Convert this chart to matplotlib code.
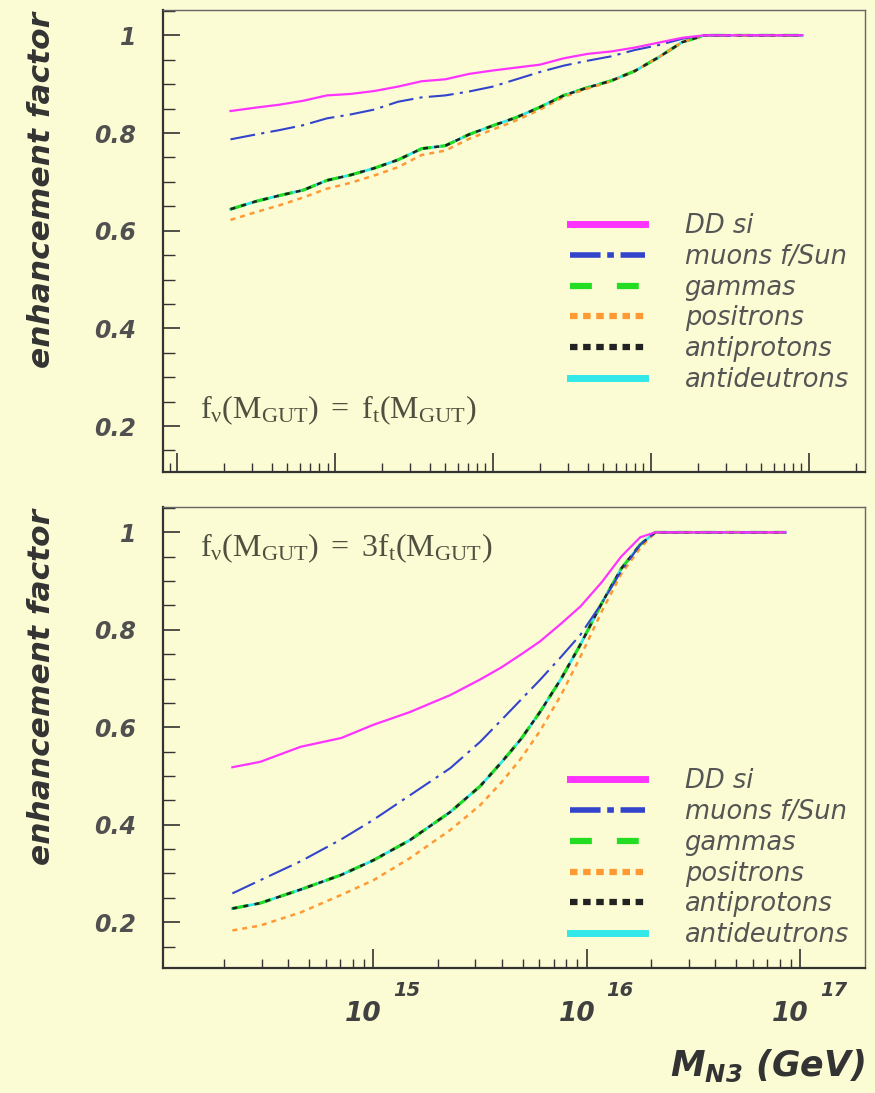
import numpy as np
import matplotlib
matplotlib.use("Agg")
import matplotlib.pyplot as plt
from matplotlib.lines import Line2D
from matplotlib.ticker import LogLocator, MultipleLocator, NullFormatter

plt.rcParams["font.family"] = ["DejaVu Sans"]
plt.rcParams["mathtext.fontset"] = "custom"
plt.rcParams["mathtext.rm"] = "Liberation Serif"
plt.rcParams["mathtext.it"] = "Liberation Serif:italic"
plt.rcParams["mathtext.bf"] = "DejaVu Sans:bold:italic"

# ---- data (log10 of M_N3 in GeV, enhancement factor) ----
# upper panel: f_nu(M_GUT) = f_t(M_GUT)
logm_top = [14.34, 14.5, 14.65, 14.8, 14.95, 15.1, 15.25, 15.4, 15.55, 15.7, 15.85,
            16.0, 16.15, 16.3, 16.45, 16.6, 16.75, 16.9, 17.05, 17.2, 17.34, 17.5,
            17.7, 17.96]
dd_top = [0.845, 0.852, 0.858, 0.866, 0.877, 0.880, 0.886, 0.895, 0.906, 0.910, 0.921,
          0.928, 0.934, 0.940, 0.953, 0.962, 0.967, 0.975, 0.985, 0.995, 1.0, 1.0, 1.0, 1.0]
mu_top = [0.787, 0.797, 0.806, 0.816, 0.830, 0.838, 0.848, 0.864, 0.873, 0.877, 0.885,
          0.895, 0.910, 0.925, 0.938, 0.948, 0.957, 0.970, 0.980, 0.993, 1.0, 1.0, 1.0, 1.0]
gam_top = [0.644, 0.660, 0.672, 0.683, 0.703, 0.714, 0.728, 0.745, 0.768, 0.774, 0.797,
           0.815, 0.832, 0.853, 0.877, 0.893, 0.907, 0.927, 0.955, 0.986, 1.0, 1.0, 1.0, 1.0]
pos_top = [0.622, 0.638, 0.652, 0.668, 0.686, 0.698, 0.713, 0.730, 0.755, 0.764, 0.788,
           0.807, 0.826, 0.848, 0.874, 0.891, 0.906, 0.927, 0.955, 0.986, 1.0, 1.0, 1.0, 1.0]
pbar_top = gam_top   # antiprotons lie on top of gammas
dbar_top = gam_top   # antideutrons lie on top of gammas

# lower panel: f_nu(M_GUT) = 3 f_t(M_GUT)
logm_bot = [14.34, 14.47, 14.66, 14.85, 15.0, 15.17, 15.36, 15.5, 15.6, 15.69, 15.78,
            15.88, 15.97, 16.07, 16.16, 16.25, 16.32, 16.5, 16.7, 16.93]
dd_bot = [0.518, 0.529, 0.560, 0.578, 0.605, 0.631, 0.666, 0.698, 0.723, 0.749, 0.776,
          0.813, 0.848, 0.898, 0.950, 0.990, 1.0, 1.0, 1.0, 1.0]
mu_bot = [0.259, 0.286, 0.325, 0.370, 0.410, 0.460, 0.516, 0.570, 0.615, 0.656, 0.697,
          0.745, 0.790, 0.855, 0.920, 0.975, 1.0, 1.0, 1.0, 1.0]
gam_bot = [0.228, 0.239, 0.267, 0.297, 0.327, 0.368, 0.426, 0.479, 0.528, 0.575, 0.631,
           0.700, 0.770, 0.855, 0.925, 0.975, 1.0, 1.0, 1.0, 1.0]
pos_bot = [0.183, 0.193, 0.220, 0.256, 0.286, 0.331, 0.389, 0.440, 0.487, 0.535, 0.592,
           0.667, 0.745, 0.838, 0.914, 0.968, 1.0, 1.0, 1.0, 1.0]
pbar_bot = gam_bot
dbar_bot = gam_bot

labels = ["DD si", "muons f/Sun", "gammas", "positrons", "antiprotons", "antideutrons"]
bottom_decades = [15, 16, 17]

BG = "#fcfcd4"
C_DD = "#ff33ff"
C_MU = "#3344cc"
C_GAM = "#22dd22"
C_POS = "#ff9933"
C_PBAR = "#222222"
C_DBAR = "#33e8e8"

fig = plt.figure(figsize=(8.75, 10.93), dpi=100, facecolor=BG)
ax_top = fig.add_axes([0.186, 0.5682, 0.802, 0.4227])
ax_bot = fig.add_axes([0.186, 0.1144, 0.802, 0.4217])


def draw(ax, logm, dd, mu, gam, pos, pbar, dbar):
    m = 10.0 ** np.array(logm)
    ax.plot(m, dbar, color=C_DBAR, lw=2.0)
    ax.plot(m, gam, color=C_GAM, lw=2.2, dashes=(5, 3))
    ax.plot(m, pos, color=C_POS, lw=1.8, dashes=(2, 2))
    ax.plot(m, pbar, color=C_PBAR, lw=1.8, dashes=(2, 2.5))
    ax.plot(m, mu, color=C_MU, lw=1.5, dashes=(12, 3, 1.5, 3))
    ax.plot(m, dd, color=C_DD, lw=1.6)


def style(ax, xlim):
    ax.set_facecolor(BG)
    ax.set_xscale("log")
    ax.set_xlim(*xlim)
    ax.set_ylim(0.106, 1.052)
    ax.yaxis.set_major_locator(MultipleLocator(0.2))
    ax.yaxis.set_minor_locator(MultipleLocator(0.05))
    ax.xaxis.set_major_locator(LogLocator(base=10, numticks=20))
    ax.xaxis.set_minor_locator(LogLocator(base=10, subs=np.arange(2, 10), numticks=50))
    ax.xaxis.set_minor_formatter(NullFormatter())
    ax.tick_params(axis="y", which="major", direction="in", length=12, width=1.2,
                   color="#333333", pad=19, labelsize=17, labelcolor="#505050")
    ax.tick_params(axis="y", which="minor", direction="in", length=8.5, width=1.0,
                   color="#333333")
    ax.tick_params(axis="x", which="major", direction="in", length=14, width=1.2,
                   color="#333333")
    ax.tick_params(axis="x", which="minor", direction="in", length=6.5, width=1.0,
                   color="#333333")
    ax.set_yticks([0.2, 0.4, 0.6, 0.8, 1.0], ["0.2", "0.4", "0.6", "0.8", "1"],
                  fontweight="bold", fontstyle="italic")
    for s in ["left", "bottom"]:
        ax.spines[s].set_color("#333333")
        ax.spines[s].set_linewidth(1.6)
    for s in ["top", "right"]:
        ax.spines[s].set_color("#666666")
        ax.spines[s].set_linewidth(1.0)
    ax.set_ylabel("enhancement factor", fontsize=22.5, fontweight="bold",
                  fontstyle="italic", color="#333333")
    ax.yaxis.set_label_coords(-0.152, 0.61)


def legend(ax, anchor):
    handles = [
        Line2D([], [], color=C_DD, lw=5),
        Line2D([], [], color=C_MU, lw=4, dashes=(5.5, 1.2, 1.2, 1.2)),
        Line2D([], [], color=C_GAM, lw=4.5, dashes=(3.5, 4)),
        Line2D([], [], color=C_POS, lw=4.5, dashes=(1.2, 0.9)),
        Line2D([], [], color=C_PBAR, lw=4.5, dashes=(1.2, 0.9)),
        Line2D([], [], color=C_DBAR, lw=5),
    ]
    leg = ax.legend(handles, labels, loc="upper left", bbox_to_anchor=anchor,
                    frameon=False, borderpad=0, borderaxespad=0, handlelength=2.92,
                    handletextpad=1.55, labelspacing=0.19,
                    prop={"size": 18.5, "style": "italic"})
    for t in leg.get_texts():
        t.set_color("#555555")


draw(ax_top, logm_top, dd_top, mu_top, gam_top, pos_top, pbar_top, dbar_top)
style(ax_top, (10 ** 13.911, 10 ** 18.354))
ax_top.set_xticklabels([])
legend(ax_top, (0.58, 0.561))
ax_top.text(0.053, 0.134, r"$\mathrm{f_{\nu}(M_{GUT})\ =\ f_{t}(M_{GUT})}$",
            transform=ax_top.transAxes, fontsize=23, color="#505040", va="center")

draw(ax_bot, logm_bot, dd_bot, mu_bot, gam_bot, pos_bot, pbar_bot, dbar_bot)
style(ax_bot, (10 ** 14.014, 10 ** 17.30))
ax_bot.set_xticklabels([])
legend(ax_bot, (0.58, 0.434))
ax_bot.text(0.053, 0.911, r"$\mathrm{f_{\nu}(M_{GUT})\ =\ 3f_{t}(M_{GUT})}$",
            transform=ax_bot.transAxes, fontsize=23, color="#505040", va="center")

xt = ax_bot.get_xaxis_transform()
for d in bottom_decades:
    ax_bot.annotate("10", xy=(10.0 ** d, 0), xycoords=xt, xytext=(6, -33),
                    textcoords="offset points", ha="right", va="center", fontsize=19,
                    fontweight="bold", fontstyle="italic", color="#404040")
    ax_bot.annotate(str(d), xy=(10.0 ** d, 0), xycoords=xt, xytext=(14, -16),
                    textcoords="offset points", ha="left", va="center", fontsize=14,
                    fontweight="bold", fontstyle="italic", color="#404040")

ax_bot.text(1.0, -0.212, r"$\mathbf{M_{N3}}$ (GeV)", transform=ax_bot.transAxes,
            ha="right", va="center", fontsize=25, fontweight="bold", fontstyle="italic",
            color="#333333")

fig.savefig("out.png", dpi=100, facecolor=BG)
